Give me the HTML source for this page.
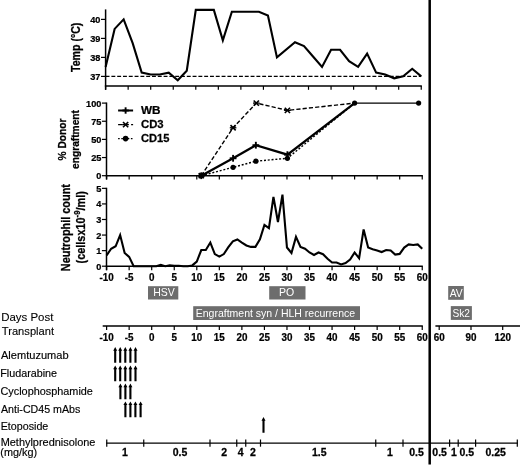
<!DOCTYPE html>
<html><head><meta charset="utf-8"><title>chart</title>
<style>html,body{margin:0;padding:0;background:#fff;}text[font-weight=bold]{stroke:#000;stroke-width:0.25px;}svg{display:block;will-change:transform;filter:blur(0.3px);font-family:"Liberation Sans", sans-serif;}</style>
</head><body>
<svg width="520" height="466" viewBox="0 0 520 466">
<rect width="520" height="466" fill="#fff"/>
<line x1="429.70" y1="0.00" x2="429.70" y2="464.60" stroke="#000" stroke-width="2.5" />
<line x1="105.60" y1="9.40" x2="105.60" y2="89.80" stroke="#000" stroke-width="1.5" />
<line x1="104.85" y1="86.00" x2="421.84" y2="86.00" stroke="#000" stroke-width="1.5" />
<line x1="105.61" y1="86.00" x2="105.61" y2="89.80" stroke="#000" stroke-width="1.2" />
<line x1="128.15" y1="86.00" x2="128.15" y2="89.80" stroke="#000" stroke-width="1.2" />
<line x1="150.70" y1="86.00" x2="150.70" y2="89.80" stroke="#000" stroke-width="1.2" />
<line x1="173.25" y1="86.00" x2="173.25" y2="89.80" stroke="#000" stroke-width="1.2" />
<line x1="195.79" y1="86.00" x2="195.79" y2="89.80" stroke="#000" stroke-width="1.2" />
<line x1="218.33" y1="86.00" x2="218.33" y2="89.80" stroke="#000" stroke-width="1.2" />
<line x1="240.88" y1="86.00" x2="240.88" y2="89.80" stroke="#000" stroke-width="1.2" />
<line x1="263.43" y1="86.00" x2="263.43" y2="89.80" stroke="#000" stroke-width="1.2" />
<line x1="285.97" y1="86.00" x2="285.97" y2="89.80" stroke="#000" stroke-width="1.2" />
<line x1="308.51" y1="86.00" x2="308.51" y2="89.80" stroke="#000" stroke-width="1.2" />
<line x1="331.06" y1="86.00" x2="331.06" y2="89.80" stroke="#000" stroke-width="1.2" />
<line x1="353.61" y1="86.00" x2="353.61" y2="89.80" stroke="#000" stroke-width="1.2" />
<line x1="376.15" y1="86.00" x2="376.15" y2="89.80" stroke="#000" stroke-width="1.2" />
<line x1="398.69" y1="86.00" x2="398.69" y2="89.80" stroke="#000" stroke-width="1.2" />
<line x1="421.24" y1="86.00" x2="421.24" y2="89.80" stroke="#000" stroke-width="1.2" />
<line x1="101.00" y1="76.40" x2="105.60" y2="76.40" stroke="#000" stroke-width="1.2" />
<text transform="translate(100.40,79.85) scale(0.93,1)" font-size="9.9" font-weight="bold" text-anchor="end" fill="#000" >37</text>
<line x1="101.00" y1="57.40" x2="105.60" y2="57.40" stroke="#000" stroke-width="1.2" />
<text transform="translate(100.40,60.85) scale(0.93,1)" font-size="9.9" font-weight="bold" text-anchor="end" fill="#000" >38</text>
<line x1="101.00" y1="38.40" x2="105.60" y2="38.40" stroke="#000" stroke-width="1.2" />
<text transform="translate(100.40,41.85) scale(0.93,1)" font-size="9.9" font-weight="bold" text-anchor="end" fill="#000" >39</text>
<line x1="101.00" y1="19.40" x2="105.60" y2="19.40" stroke="#000" stroke-width="1.2" />
<text transform="translate(100.40,22.85) scale(0.93,1)" font-size="9.9" font-weight="bold" text-anchor="end" fill="#000" >40</text>
<line x1="105.60" y1="76.40" x2="421.24" y2="76.40" stroke="#000" stroke-width="1.4" stroke-dasharray="3.9 1.9"/>
<polyline points="105.61,66.90 114.63,28.90 123.65,19.40 132.66,43.15 141.68,72.60 150.70,74.50 159.72,74.50 168.74,72.60 177.75,80.20 186.77,70.70 195.79,9.90 213.83,9.90 222.84,40.30 231.86,11.80 258.92,11.80 267.93,15.60 276.95,57.40 294.99,42.20 304.01,46.00 313.02,56.45 322.04,66.90 331.06,49.80 340.08,49.80 349.10,61.20 358.11,66.90 367.13,53.60 376.15,72.60 385.17,74.50 394.19,78.30 403.20,76.40 412.22,68.80 421.24,76.40" fill="none" stroke="#000" stroke-width="2.1" stroke-linejoin="miter" stroke-linecap="butt" />
<text transform="translate(79.70,47.30) scale(1.15,1) rotate(-90)" font-size="10.6" font-weight="bold" text-anchor="middle">Temp (°C)</text>
<line x1="106.50" y1="102.50" x2="106.50" y2="179.50" stroke="#000" stroke-width="1.5" />
<line x1="105.75" y1="175.70" x2="422.84" y2="175.70" stroke="#000" stroke-width="1.5" />
<line x1="106.61" y1="175.70" x2="106.61" y2="179.50" stroke="#000" stroke-width="1.2" />
<line x1="129.15" y1="175.70" x2="129.15" y2="179.50" stroke="#000" stroke-width="1.2" />
<line x1="151.70" y1="175.70" x2="151.70" y2="179.50" stroke="#000" stroke-width="1.2" />
<line x1="174.25" y1="175.70" x2="174.25" y2="179.50" stroke="#000" stroke-width="1.2" />
<line x1="196.79" y1="175.70" x2="196.79" y2="179.50" stroke="#000" stroke-width="1.2" />
<line x1="219.33" y1="175.70" x2="219.33" y2="179.50" stroke="#000" stroke-width="1.2" />
<line x1="241.88" y1="175.70" x2="241.88" y2="179.50" stroke="#000" stroke-width="1.2" />
<line x1="264.43" y1="175.70" x2="264.43" y2="179.50" stroke="#000" stroke-width="1.2" />
<line x1="286.97" y1="175.70" x2="286.97" y2="179.50" stroke="#000" stroke-width="1.2" />
<line x1="309.51" y1="175.70" x2="309.51" y2="179.50" stroke="#000" stroke-width="1.2" />
<line x1="332.06" y1="175.70" x2="332.06" y2="179.50" stroke="#000" stroke-width="1.2" />
<line x1="354.61" y1="175.70" x2="354.61" y2="179.50" stroke="#000" stroke-width="1.2" />
<line x1="377.15" y1="175.70" x2="377.15" y2="179.50" stroke="#000" stroke-width="1.2" />
<line x1="399.69" y1="175.70" x2="399.69" y2="179.50" stroke="#000" stroke-width="1.2" />
<line x1="422.24" y1="175.70" x2="422.24" y2="179.50" stroke="#000" stroke-width="1.2" />
<line x1="101.90" y1="175.70" x2="106.50" y2="175.70" stroke="#000" stroke-width="1.2" />
<text transform="translate(101.40,179.15) scale(0.93,1)" font-size="9.9" font-weight="bold" text-anchor="end" fill="#000" >0</text>
<line x1="101.90" y1="157.55" x2="106.50" y2="157.55" stroke="#000" stroke-width="1.2" />
<text transform="translate(101.40,161.00) scale(0.93,1)" font-size="9.9" font-weight="bold" text-anchor="end" fill="#000" >25</text>
<line x1="101.90" y1="139.40" x2="106.50" y2="139.40" stroke="#000" stroke-width="1.2" />
<text transform="translate(101.40,142.85) scale(0.93,1)" font-size="9.9" font-weight="bold" text-anchor="end" fill="#000" >50</text>
<line x1="101.90" y1="121.25" x2="106.50" y2="121.25" stroke="#000" stroke-width="1.2" />
<text transform="translate(101.40,124.70) scale(0.93,1)" font-size="9.9" font-weight="bold" text-anchor="end" fill="#000" >75</text>
<line x1="101.90" y1="103.10" x2="106.50" y2="103.10" stroke="#000" stroke-width="1.2" />
<text transform="translate(101.40,106.55) scale(0.93,1)" font-size="9.9" font-weight="bold" text-anchor="end" fill="#000" >100</text>
<polyline points="201.30,175.70 233.09,167.35 255.86,161.18 287.42,158.28 354.61,103.10" fill="none" stroke="#000" stroke-width="1.4" stroke-linejoin="miter" stroke-linecap="butt" stroke-dasharray="2 1.8"/>
<polyline points="201.30,175.70 233.09,127.78 256.31,103.10 287.42,110.36 354.61,103.10" fill="none" stroke="#000" stroke-width="1.4" stroke-linejoin="miter" stroke-linecap="butt" stroke-dasharray="4.2 2.1"/>
<polyline points="201.30,175.70 233.09,158.28 255.86,145.21 287.42,154.65 354.61,103.10" fill="none" stroke="#000" stroke-width="2.3" stroke-linejoin="miter" stroke-linecap="butt" />
<polyline points="354.61,103.10 418.63,103.10" fill="none" stroke="#000" stroke-width="1.3" stroke-linejoin="miter" stroke-linecap="butt" />
<line x1="201.30" y1="172.30" x2="201.30" y2="179.10" stroke="#000" stroke-width="1.9" />
<line x1="197.90" y1="175.70" x2="204.70" y2="175.70" stroke="#000" stroke-width="1.9" />
<line x1="233.09" y1="154.88" x2="233.09" y2="161.68" stroke="#000" stroke-width="1.9" />
<line x1="229.69" y1="158.28" x2="236.49" y2="158.28" stroke="#000" stroke-width="1.9" />
<line x1="255.86" y1="141.81" x2="255.86" y2="148.61" stroke="#000" stroke-width="1.9" />
<line x1="252.46" y1="145.21" x2="259.26" y2="145.21" stroke="#000" stroke-width="1.9" />
<line x1="287.42" y1="151.25" x2="287.42" y2="158.05" stroke="#000" stroke-width="1.9" />
<line x1="284.02" y1="154.65" x2="290.82" y2="154.65" stroke="#000" stroke-width="1.9" />
<line x1="198.70" y1="173.10" x2="203.90" y2="178.30" stroke="#000" stroke-width="1.6" />
<line x1="198.70" y1="178.30" x2="203.90" y2="173.10" stroke="#000" stroke-width="1.6" />
<line x1="198.00" y1="175.70" x2="204.60" y2="175.70" stroke="#000" stroke-width="1.3" />
<line x1="230.49" y1="125.18" x2="235.69" y2="130.38" stroke="#000" stroke-width="1.6" />
<line x1="230.49" y1="130.38" x2="235.69" y2="125.18" stroke="#000" stroke-width="1.6" />
<line x1="229.79" y1="127.78" x2="236.39" y2="127.78" stroke="#000" stroke-width="1.3" />
<line x1="253.71" y1="100.50" x2="258.91" y2="105.70" stroke="#000" stroke-width="1.6" />
<line x1="253.71" y1="105.70" x2="258.91" y2="100.50" stroke="#000" stroke-width="1.6" />
<line x1="253.01" y1="103.10" x2="259.61" y2="103.10" stroke="#000" stroke-width="1.3" />
<line x1="284.82" y1="107.76" x2="290.02" y2="112.96" stroke="#000" stroke-width="1.6" />
<line x1="284.82" y1="112.96" x2="290.02" y2="107.76" stroke="#000" stroke-width="1.6" />
<line x1="284.12" y1="110.36" x2="290.72" y2="110.36" stroke="#000" stroke-width="1.3" />
<circle cx="201.30" cy="175.70" r="2.6" fill="#000"/>
<circle cx="233.09" cy="167.35" r="2.6" fill="#000"/>
<circle cx="255.86" cy="161.18" r="2.6" fill="#000"/>
<circle cx="287.42" cy="158.28" r="2.6" fill="#000"/>
<circle cx="354.61" cy="103.10" r="2.6" fill="#000"/>
<circle cx="418.63" cy="103.10" r="2.6" fill="#000"/>
<line x1="118.10" y1="110.50" x2="133.10" y2="110.50" stroke="#000" stroke-width="2.0" />
<line x1="125.60" y1="107.30" x2="125.60" y2="113.70" stroke="#000" stroke-width="1.9" />
<line x1="122.40" y1="110.50" x2="128.80" y2="110.50" stroke="#000" stroke-width="1.9" />
<line x1="118.10" y1="124.60" x2="133.10" y2="124.60" stroke="#000" stroke-width="1.2" stroke-dasharray="4.5 8.5 2 0"/>
<line x1="123.00" y1="122.00" x2="128.20" y2="127.20" stroke="#000" stroke-width="1.6" />
<line x1="123.00" y1="127.20" x2="128.20" y2="122.00" stroke="#000" stroke-width="1.6" />
<line x1="122.30" y1="124.60" x2="128.90" y2="124.60" stroke="#000" stroke-width="1.3" />
<line x1="118.10" y1="138.60" x2="133.10" y2="138.60" stroke="#000" stroke-width="1.2" stroke-dasharray="1.6 1.6"/>
<circle cx="125.60" cy="138.60" r="2.8" fill="#000"/>
<text transform="translate(141.00,113.90) scale(1.127,1)" font-size="10.4" font-weight="bold" text-anchor="start" fill="#000" >WB</text>
<text transform="translate(141.00,128.00) scale(1.09,1)" font-size="10.4" font-weight="bold" text-anchor="start" fill="#000" >CD3</text>
<text transform="translate(141.00,142.10) scale(1.07,1)" font-size="10.4" font-weight="bold" text-anchor="start" fill="#000" >CD15</text>
<text transform="translate(66.20,139.50) scale(1.15,1) rotate(-90)" font-size="10.2" font-weight="bold" text-anchor="middle">% Donor</text>
<text transform="translate(78.80,139.50) scale(1.15,1) rotate(-90)" font-size="10.2" font-weight="bold" text-anchor="middle">engraftment</text>
<line x1="106.50" y1="187.75" x2="106.50" y2="270.20" stroke="#000" stroke-width="1.5" />
<line x1="105.75" y1="266.20" x2="422.84" y2="266.20" stroke="#000" stroke-width="1.5" />
<line x1="106.61" y1="266.20" x2="106.61" y2="270.20" stroke="#000" stroke-width="1.2" />
<text transform="translate(106.61,280.90) scale(0.93,1)" font-size="10.6" font-weight="bold" text-anchor="middle" fill="#000" >-10</text>
<line x1="129.15" y1="266.20" x2="129.15" y2="270.20" stroke="#000" stroke-width="1.2" />
<text transform="translate(129.15,280.90) scale(0.93,1)" font-size="10.6" font-weight="bold" text-anchor="middle" fill="#000" >-5</text>
<line x1="151.70" y1="266.20" x2="151.70" y2="270.20" stroke="#000" stroke-width="1.2" />
<text transform="translate(151.70,280.90) scale(0.93,1)" font-size="10.6" font-weight="bold" text-anchor="middle" fill="#000" >0</text>
<line x1="174.25" y1="266.20" x2="174.25" y2="270.20" stroke="#000" stroke-width="1.2" />
<text transform="translate(174.25,280.90) scale(0.93,1)" font-size="10.6" font-weight="bold" text-anchor="middle" fill="#000" >5</text>
<line x1="196.79" y1="266.20" x2="196.79" y2="270.20" stroke="#000" stroke-width="1.2" />
<text transform="translate(196.79,280.90) scale(0.93,1)" font-size="10.6" font-weight="bold" text-anchor="middle" fill="#000" >10</text>
<line x1="219.33" y1="266.20" x2="219.33" y2="270.20" stroke="#000" stroke-width="1.2" />
<text transform="translate(219.33,280.90) scale(0.93,1)" font-size="10.6" font-weight="bold" text-anchor="middle" fill="#000" >15</text>
<line x1="241.88" y1="266.20" x2="241.88" y2="270.20" stroke="#000" stroke-width="1.2" />
<text transform="translate(241.88,280.90) scale(0.93,1)" font-size="10.6" font-weight="bold" text-anchor="middle" fill="#000" >20</text>
<line x1="264.43" y1="266.20" x2="264.43" y2="270.20" stroke="#000" stroke-width="1.2" />
<text transform="translate(264.43,280.90) scale(0.93,1)" font-size="10.6" font-weight="bold" text-anchor="middle" fill="#000" >25</text>
<line x1="286.97" y1="266.20" x2="286.97" y2="270.20" stroke="#000" stroke-width="1.2" />
<text transform="translate(286.97,280.90) scale(0.93,1)" font-size="10.6" font-weight="bold" text-anchor="middle" fill="#000" >30</text>
<line x1="309.51" y1="266.20" x2="309.51" y2="270.20" stroke="#000" stroke-width="1.2" />
<text transform="translate(309.51,280.90) scale(0.93,1)" font-size="10.6" font-weight="bold" text-anchor="middle" fill="#000" >35</text>
<line x1="332.06" y1="266.20" x2="332.06" y2="270.20" stroke="#000" stroke-width="1.2" />
<text transform="translate(332.06,280.90) scale(0.93,1)" font-size="10.6" font-weight="bold" text-anchor="middle" fill="#000" >40</text>
<line x1="354.61" y1="266.20" x2="354.61" y2="270.20" stroke="#000" stroke-width="1.2" />
<text transform="translate(354.61,280.90) scale(0.93,1)" font-size="10.6" font-weight="bold" text-anchor="middle" fill="#000" >45</text>
<line x1="377.15" y1="266.20" x2="377.15" y2="270.20" stroke="#000" stroke-width="1.2" />
<text transform="translate(377.15,280.90) scale(0.93,1)" font-size="10.6" font-weight="bold" text-anchor="middle" fill="#000" >50</text>
<line x1="399.69" y1="266.20" x2="399.69" y2="270.20" stroke="#000" stroke-width="1.2" />
<text transform="translate(399.69,280.90) scale(0.93,1)" font-size="10.6" font-weight="bold" text-anchor="middle" fill="#000" >55</text>
<line x1="422.24" y1="266.20" x2="422.24" y2="270.20" stroke="#000" stroke-width="1.2" />
<text transform="translate(422.24,280.90) scale(0.93,1)" font-size="10.6" font-weight="bold" text-anchor="middle" fill="#000" >60</text>
<line x1="101.90" y1="266.20" x2="106.50" y2="266.20" stroke="#000" stroke-width="1.2" />
<text transform="translate(101.40,269.65) scale(0.93,1)" font-size="9.9" font-weight="bold" text-anchor="end" fill="#000" >0</text>
<line x1="101.90" y1="250.63" x2="106.50" y2="250.63" stroke="#000" stroke-width="1.2" />
<text transform="translate(101.40,254.08) scale(0.93,1)" font-size="9.9" font-weight="bold" text-anchor="end" fill="#000" >1</text>
<line x1="101.90" y1="235.06" x2="106.50" y2="235.06" stroke="#000" stroke-width="1.2" />
<text transform="translate(101.40,238.51) scale(0.93,1)" font-size="9.9" font-weight="bold" text-anchor="end" fill="#000" >2</text>
<line x1="101.90" y1="219.49" x2="106.50" y2="219.49" stroke="#000" stroke-width="1.2" />
<text transform="translate(101.40,222.94) scale(0.93,1)" font-size="9.9" font-weight="bold" text-anchor="end" fill="#000" >3</text>
<line x1="101.90" y1="203.92" x2="106.50" y2="203.92" stroke="#000" stroke-width="1.2" />
<text transform="translate(101.40,207.37) scale(0.93,1)" font-size="9.9" font-weight="bold" text-anchor="end" fill="#000" >4</text>
<line x1="101.90" y1="188.35" x2="106.50" y2="188.35" stroke="#000" stroke-width="1.2" />
<text transform="translate(101.40,191.80) scale(0.93,1)" font-size="9.9" font-weight="bold" text-anchor="end" fill="#000" >5</text>
<polyline points="106.61,255.30 111.12,248.76 115.63,246.27 120.14,235.06 124.65,252.97 129.15,256.86 133.66,266.20 138.17,266.20 142.68,266.20 147.19,266.20 151.70,266.20 156.21,266.20 160.72,264.95 165.23,266.20 169.74,265.42 174.25,265.73 178.75,265.73 183.26,266.20 187.77,266.20 192.28,265.42 196.79,261.53 201.30,250.01 205.81,250.01 210.32,242.53 214.83,254.06 219.33,256.55 223.84,254.06 228.35,247.20 232.86,241.29 237.37,239.42 241.88,242.53 246.39,245.49 250.90,246.89 255.41,246.89 259.92,239.26 264.43,224.94 268.93,228.21 273.44,196.91 277.95,221.98 282.46,194.58 286.97,247.52 291.48,252.97 295.99,236.93 300.50,246.89 305.01,248.76 309.51,252.50 314.02,254.99 318.53,252.50 323.04,254.21 327.55,258.73 332.06,262.46 336.57,262.46 341.08,264.49 345.59,263.09 350.10,259.50 354.61,252.50 359.11,258.26 363.62,229.45 368.13,247.52 372.64,249.23 377.15,250.47 381.66,252.03 386.17,250.01 390.68,250.47 395.19,254.52 399.69,253.90 404.20,247.52 408.71,244.40 413.22,245.02 417.73,244.40 422.24,248.76" fill="none" stroke="#000" stroke-width="2.1" stroke-linejoin="miter" stroke-linecap="butt" stroke-linejoin="round"/>
<text transform="translate(70.00,227.60) scale(1.15,1) rotate(-90)" font-size="10.9" font-weight="bold" text-anchor="middle">Neutrophil count</text>
<text transform="translate(84.60,227.30) scale(1.15,1) rotate(-90)" font-size="10.9" font-weight="bold" text-anchor="middle">(cellsx10<tspan font-size="7.8" dy="-4.2">-9</tspan><tspan dy="4.2">/ml)</tspan></text>
<rect x="148.00" y="286.20" width="30.30" height="13.30" fill="#6d6d6d"/>
<text transform="translate(163.95,295.75) scale(1.0,1)" font-size="10.5" font-weight="normal" text-anchor="middle" fill="#fff" >HSV</text>
<rect x="269.20" y="286.20" width="36.30" height="13.30" fill="#6d6d6d"/>
<text transform="translate(286.65,296.15) scale(1.0,1)" font-size="10.5" font-weight="normal" text-anchor="middle" fill="#fff" >PO</text>
<rect x="193.20" y="306.20" width="166.80" height="13.80" fill="#6d6d6d"/>
<text transform="translate(275.40,316.60) scale(1.0,1)" font-size="10.5" font-weight="normal" text-anchor="middle" fill="#fff" >Engraftment syn / HLH recurrence</text>
<rect x="448.20" y="286.00" width="15.60" height="13.80" fill="#6d6d6d"/>
<text transform="translate(456.20,296.50) scale(0.98,1)" font-size="10.5" font-weight="normal" text-anchor="middle" fill="#fff" >AV</text>
<rect x="450.80" y="306.10" width="21.10" height="13.80" fill="#6d6d6d"/>
<text transform="translate(461.15,316.80) scale(0.97,1)" font-size="10.5" font-weight="normal" text-anchor="middle" fill="#fff" >Sk2</text>
<line x1="102.70" y1="326.00" x2="422.84" y2="326.00" stroke="#000" stroke-width="1.5" />
<line x1="106.61" y1="326.00" x2="106.61" y2="330.00" stroke="#000" stroke-width="1.2" />
<text transform="translate(106.61,340.80) scale(0.93,1)" font-size="10.6" font-weight="bold" text-anchor="middle" fill="#000" >-10</text>
<line x1="129.15" y1="326.00" x2="129.15" y2="330.00" stroke="#000" stroke-width="1.2" />
<text transform="translate(129.15,340.80) scale(0.93,1)" font-size="10.6" font-weight="bold" text-anchor="middle" fill="#000" >-5</text>
<line x1="151.70" y1="326.00" x2="151.70" y2="330.00" stroke="#000" stroke-width="1.2" />
<text transform="translate(151.70,340.80) scale(0.93,1)" font-size="10.6" font-weight="bold" text-anchor="middle" fill="#000" >0</text>
<line x1="174.25" y1="326.00" x2="174.25" y2="330.00" stroke="#000" stroke-width="1.2" />
<text transform="translate(174.25,340.80) scale(0.93,1)" font-size="10.6" font-weight="bold" text-anchor="middle" fill="#000" >5</text>
<line x1="196.79" y1="326.00" x2="196.79" y2="330.00" stroke="#000" stroke-width="1.2" />
<text transform="translate(196.79,340.80) scale(0.93,1)" font-size="10.6" font-weight="bold" text-anchor="middle" fill="#000" >10</text>
<line x1="219.33" y1="326.00" x2="219.33" y2="330.00" stroke="#000" stroke-width="1.2" />
<text transform="translate(219.33,340.80) scale(0.93,1)" font-size="10.6" font-weight="bold" text-anchor="middle" fill="#000" >15</text>
<line x1="241.88" y1="326.00" x2="241.88" y2="330.00" stroke="#000" stroke-width="1.2" />
<text transform="translate(241.88,340.80) scale(0.93,1)" font-size="10.6" font-weight="bold" text-anchor="middle" fill="#000" >20</text>
<line x1="264.43" y1="326.00" x2="264.43" y2="330.00" stroke="#000" stroke-width="1.2" />
<text transform="translate(264.43,340.80) scale(0.93,1)" font-size="10.6" font-weight="bold" text-anchor="middle" fill="#000" >25</text>
<line x1="286.97" y1="326.00" x2="286.97" y2="330.00" stroke="#000" stroke-width="1.2" />
<text transform="translate(286.97,340.80) scale(0.93,1)" font-size="10.6" font-weight="bold" text-anchor="middle" fill="#000" >30</text>
<line x1="309.51" y1="326.00" x2="309.51" y2="330.00" stroke="#000" stroke-width="1.2" />
<text transform="translate(309.51,340.80) scale(0.93,1)" font-size="10.6" font-weight="bold" text-anchor="middle" fill="#000" >35</text>
<line x1="332.06" y1="326.00" x2="332.06" y2="330.00" stroke="#000" stroke-width="1.2" />
<text transform="translate(332.06,340.80) scale(0.93,1)" font-size="10.6" font-weight="bold" text-anchor="middle" fill="#000" >40</text>
<line x1="354.61" y1="326.00" x2="354.61" y2="330.00" stroke="#000" stroke-width="1.2" />
<text transform="translate(354.61,340.80) scale(0.93,1)" font-size="10.6" font-weight="bold" text-anchor="middle" fill="#000" >45</text>
<line x1="377.15" y1="326.00" x2="377.15" y2="330.00" stroke="#000" stroke-width="1.2" />
<text transform="translate(377.15,340.80) scale(0.93,1)" font-size="10.6" font-weight="bold" text-anchor="middle" fill="#000" >50</text>
<line x1="399.69" y1="326.00" x2="399.69" y2="330.00" stroke="#000" stroke-width="1.2" />
<text transform="translate(399.69,340.80) scale(0.93,1)" font-size="10.6" font-weight="bold" text-anchor="middle" fill="#000" >55</text>
<line x1="422.24" y1="326.00" x2="422.24" y2="330.00" stroke="#000" stroke-width="1.2" />
<text transform="translate(422.24,340.80) scale(0.93,1)" font-size="10.6" font-weight="bold" text-anchor="middle" fill="#000" >60</text>
<line x1="435.40" y1="326.00" x2="520.00" y2="326.00" stroke="#000" stroke-width="1.5" />
<line x1="439.20" y1="326.00" x2="439.20" y2="330.00" stroke="#000" stroke-width="1.2" />
<text transform="translate(439.20,340.80) scale(0.93,1)" font-size="10.6" font-weight="bold" text-anchor="middle" fill="#000" >60</text>
<line x1="471.00" y1="326.00" x2="471.00" y2="330.00" stroke="#000" stroke-width="1.2" />
<text transform="translate(471.00,340.80) scale(0.93,1)" font-size="10.6" font-weight="bold" text-anchor="middle" fill="#000" >90</text>
<line x1="502.70" y1="326.00" x2="502.70" y2="330.00" stroke="#000" stroke-width="1.2" />
<text transform="translate(502.70,340.80) scale(0.93,1)" font-size="10.6" font-weight="bold" text-anchor="middle" fill="#000" >120</text>
<text x="1.20" y="321.20" font-size="10.9" font-weight="normal" fill="#000" stroke="#000" stroke-width="0.1" textLength="52.20" lengthAdjust="spacingAndGlyphs">Days Post</text>
<text x="1.80" y="334.90" font-size="10.9" font-weight="normal" fill="#000" stroke="#000" stroke-width="0.1" textLength="52.30" lengthAdjust="spacingAndGlyphs">Transplant</text>
<text x="1.00" y="358.60" font-size="10.5" font-weight="normal" fill="#000" stroke="#000" stroke-width="0.15" textLength="67.60" lengthAdjust="spacingAndGlyphs">Alemtuzumab</text>
<text x="0.20" y="377.40" font-size="10.5" font-weight="normal" fill="#000" stroke="#000" stroke-width="0.15" textLength="56.90" lengthAdjust="spacingAndGlyphs">Fludarabine</text>
<text x="0.50" y="394.90" font-size="10.5" font-weight="normal" fill="#000" stroke="#000" stroke-width="0.15" textLength="92.40" lengthAdjust="spacingAndGlyphs">Cyclophosphamide</text>
<text x="1.00" y="412.80" font-size="10.5" font-weight="normal" fill="#000" stroke="#000" stroke-width="0.15" textLength="79.30" lengthAdjust="spacingAndGlyphs">Anti-CD45 mAbs</text>
<text x="0.70" y="430.10" font-size="10.5" font-weight="normal" fill="#000" stroke="#000" stroke-width="0.15" textLength="47.60" lengthAdjust="spacingAndGlyphs">Etoposide</text>
<text x="0.70" y="446.00" font-size="10.5" font-weight="normal" fill="#000" stroke="#000" stroke-width="0.15" textLength="94.70" lengthAdjust="spacingAndGlyphs">Methylprednisolone</text>
<text x="0.30" y="456.00" font-size="10.5" font-weight="normal" fill="#000" stroke="#000" stroke-width="0.15" textLength="36.80" lengthAdjust="spacingAndGlyphs">(mg/kg)</text>
<path d="M115.20,347.10 l2.0,3.6 h-0.95 v12.10 h-2.1 v-12.10 h-0.95 z" fill="#000"/>
<path d="M120.20,347.10 l2.0,3.6 h-0.95 v12.10 h-2.1 v-12.10 h-0.95 z" fill="#000"/>
<path d="M125.30,347.10 l2.0,3.6 h-0.95 v12.10 h-2.1 v-12.10 h-0.95 z" fill="#000"/>
<path d="M130.40,347.10 l2.0,3.6 h-0.95 v12.10 h-2.1 v-12.10 h-0.95 z" fill="#000"/>
<path d="M135.50,347.10 l2.0,3.6 h-0.95 v12.10 h-2.1 v-12.10 h-0.95 z" fill="#000"/>
<path d="M115.20,365.60 l2.0,3.6 h-0.95 v12.10 h-2.1 v-12.10 h-0.95 z" fill="#000"/>
<path d="M120.20,365.60 l2.0,3.6 h-0.95 v12.10 h-2.1 v-12.10 h-0.95 z" fill="#000"/>
<path d="M125.30,365.60 l2.0,3.6 h-0.95 v12.10 h-2.1 v-12.10 h-0.95 z" fill="#000"/>
<path d="M130.40,365.60 l2.0,3.6 h-0.95 v12.10 h-2.1 v-12.10 h-0.95 z" fill="#000"/>
<path d="M135.50,365.60 l2.0,3.6 h-0.95 v12.10 h-2.1 v-12.10 h-0.95 z" fill="#000"/>
<path d="M120.40,383.60 l2.0,3.6 h-0.95 v12.10 h-2.1 v-12.10 h-0.95 z" fill="#000"/>
<path d="M125.40,383.60 l2.0,3.6 h-0.95 v12.10 h-2.1 v-12.10 h-0.95 z" fill="#000"/>
<path d="M130.40,383.60 l2.0,3.6 h-0.95 v12.10 h-2.1 v-12.10 h-0.95 z" fill="#000"/>
<path d="M125.40,401.50 l2.0,3.6 h-0.95 v12.10 h-2.1 v-12.10 h-0.95 z" fill="#000"/>
<path d="M130.40,401.50 l2.0,3.6 h-0.95 v12.10 h-2.1 v-12.10 h-0.95 z" fill="#000"/>
<path d="M135.40,401.50 l2.0,3.6 h-0.95 v12.10 h-2.1 v-12.10 h-0.95 z" fill="#000"/>
<path d="M140.60,401.50 l2.0,3.6 h-0.95 v12.10 h-2.1 v-12.10 h-0.95 z" fill="#000"/>
<path d="M263.50,417.10 l2.0,3.6 h-0.95 v12.10 h-2.1 v-12.10 h-0.95 z" fill="#000"/>
<line x1="106.20" y1="443.10" x2="517.80" y2="443.10" stroke="#000" stroke-width="1.3" />
<line x1="106.75" y1="439.50" x2="106.75" y2="446.70" stroke="#000" stroke-width="1.2" />
<line x1="143.75" y1="439.50" x2="143.75" y2="446.70" stroke="#000" stroke-width="1.2" />
<line x1="210.00" y1="439.50" x2="210.00" y2="446.70" stroke="#000" stroke-width="1.2" />
<line x1="236.75" y1="439.50" x2="236.75" y2="446.70" stroke="#000" stroke-width="1.2" />
<line x1="245.75" y1="439.50" x2="245.75" y2="446.70" stroke="#000" stroke-width="1.2" />
<line x1="260.50" y1="439.50" x2="260.50" y2="446.70" stroke="#000" stroke-width="1.2" />
<line x1="375.75" y1="439.50" x2="375.75" y2="446.70" stroke="#000" stroke-width="1.2" />
<line x1="403.00" y1="439.50" x2="403.00" y2="446.70" stroke="#000" stroke-width="1.2" />
<line x1="449.60" y1="439.50" x2="449.60" y2="446.70" stroke="#000" stroke-width="1.2" />
<line x1="458.20" y1="439.50" x2="458.20" y2="446.70" stroke="#000" stroke-width="1.2" />
<line x1="475.60" y1="439.50" x2="475.60" y2="446.70" stroke="#000" stroke-width="1.2" />
<line x1="517.30" y1="439.50" x2="517.30" y2="446.70" stroke="#000" stroke-width="1.2" />
<text transform="translate(125.00,455.60) scale(1.03,1)" font-size="10.2" font-weight="bold" text-anchor="middle" fill="#000" >1</text>
<text transform="translate(180.00,455.60) scale(1.03,1)" font-size="10.2" font-weight="bold" text-anchor="middle" fill="#000" >0.5</text>
<text transform="translate(224.25,455.60) scale(1.03,1)" font-size="10.2" font-weight="bold" text-anchor="middle" fill="#000" >2</text>
<text transform="translate(240.75,455.60) scale(1.03,1)" font-size="10.2" font-weight="bold" text-anchor="middle" fill="#000" >4</text>
<text transform="translate(253.00,455.60) scale(1.03,1)" font-size="10.2" font-weight="bold" text-anchor="middle" fill="#000" >2</text>
<text transform="translate(319.25,455.60) scale(1.03,1)" font-size="10.2" font-weight="bold" text-anchor="middle" fill="#000" >1.5</text>
<text transform="translate(390.00,455.60) scale(1.03,1)" font-size="10.2" font-weight="bold" text-anchor="middle" fill="#000" >1</text>
<text transform="translate(416.50,455.60) scale(1.03,1)" font-size="10.2" font-weight="bold" text-anchor="middle" fill="#000" >0.5</text>
<text transform="translate(439.60,455.60) scale(1.03,1)" font-size="10.2" font-weight="bold" text-anchor="middle" fill="#000" >0.5</text>
<text transform="translate(454.00,455.60) scale(1.03,1)" font-size="10.2" font-weight="bold" text-anchor="middle" fill="#000" >1</text>
<text transform="translate(466.70,455.60) scale(1.03,1)" font-size="10.2" font-weight="bold" text-anchor="middle" fill="#000" >0.5</text>
<text transform="translate(495.70,455.60) scale(1.03,1)" font-size="10.2" font-weight="bold" text-anchor="middle" fill="#000" >0.25</text>
</svg></body></html>
